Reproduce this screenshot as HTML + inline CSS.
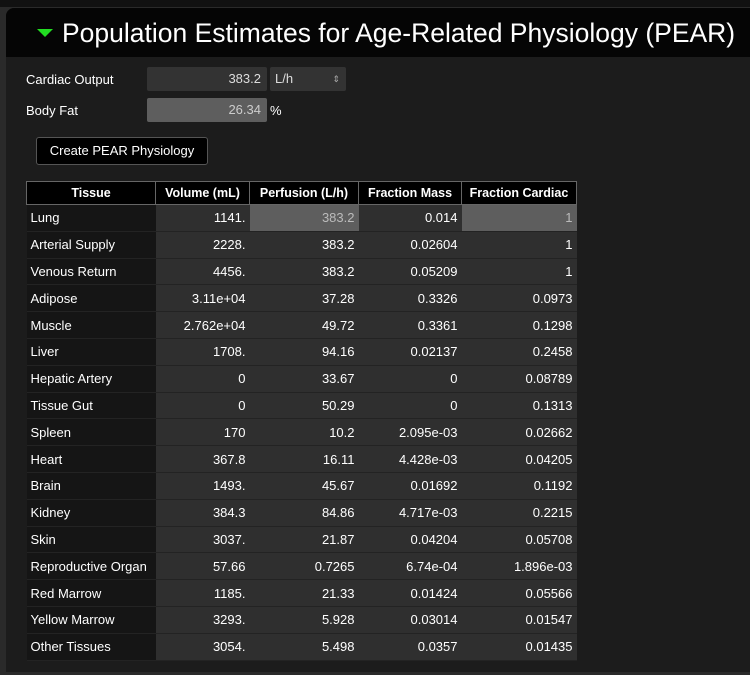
<!DOCTYPE html>
<html><head><style>
body{margin:0;width:750px;height:675px;background:#2a2a2a;overflow:hidden;font-family:"Liberation Sans",sans-serif;}
.panel{position:absolute;left:6px;top:8px;width:744px;height:664px;background:#1c1c1c;border-radius:8px 0 0 0;}
.hdr{position:absolute;left:0;top:0;width:744px;height:49px;background:#050505;border-radius:8px 0 0 0;}
.hdr .t{position:absolute;left:56px;top:10px;font-size:26.5px;color:#fff;white-space:nowrap;}
.tri{position:absolute;left:31px;top:21px;width:0;height:0;border-left:8px solid transparent;border-right:8px solid transparent;border-top:8px solid #22dd22;}
.lbl{position:absolute;color:#fff;font-size:13px;}
.box{position:absolute;color:#ddd;font-size:13px;text-align:right;box-sizing:border-box;padding-right:6px;line-height:24px;border-radius:2px;}
table{position:absolute;left:20px;top:173px;border-collapse:collapse;font-size:13px;color:#fff;table-layout:fixed;width:550px;}
th{background:#000;border:1px solid #666;height:22px;font-size:12.5px;padding:0 2px;font-weight:bold;white-space:nowrap;overflow:hidden;}
td{height:25.8px;padding:0 4px;border-bottom:1px solid #232323;text-align:right;background:#2f2f2f;white-space:nowrap;overflow:hidden;}
td:first-child{text-align:left;background:#151515;}
</style></head><body>
<div style="position:absolute;left:0;top:0;width:750px;height:7px;background:#111"></div>
<div class="panel">
<div class="hdr"><div class="tri"></div><div class="t">Population Estimates for Age-Related Physiology (PEAR)</div></div>
<div class="lbl" style="left:20px;top:64px">Cardiac Output</div>
<div class="box" style="left:141px;top:59px;width:120px;height:24px;background:#333">383.2</div>
<div class="box" style="left:264px;top:59px;width:76px;height:24px;background:#333;text-align:left;padding-left:5px">L/h<span style="position:absolute;right:6px;top:0;font-size:9px;color:#aaa">&#8661;</span></div>
<div class="lbl" style="left:20px;top:95px">Body Fat</div>
<div class="box" style="left:141px;top:90px;width:120px;height:24px;background:#5e5e5e;color:#ccc">26.34</div>
<div class="lbl" style="left:264px;top:95px">%</div>
<div style="position:absolute;left:30px;top:129px;width:172px;height:28px;background:#000;border:1px solid #555;border-radius:3px;box-sizing:border-box;color:#fff;font-size:13px;text-align:center;line-height:26px">Create PEAR Physiology</div>
<table>
<colgroup><col style="width:129px"><col style="width:94px"><col style="width:109px"><col style="width:103px"><col style="width:115px"></colgroup>
<tr><th>Tissue</th><th>Volume (mL)</th><th>Perfusion (L/h)</th><th>Fraction Mass</th><th>Fraction Cardiac</th></tr>
<tr><td>Lung</td><td>1141.</td><td style="background:#5e5e5e;color:#bbb">383.2</td><td>0.014</td><td style="background:#5e5e5e;color:#bbb">1</td></tr>
<tr><td>Arterial Supply</td><td>2228.</td><td>383.2</td><td>0.02604</td><td>1</td></tr>
<tr><td>Venous Return</td><td>4456.</td><td>383.2</td><td>0.05209</td><td>1</td></tr>
<tr><td>Adipose</td><td>3.11e+04</td><td>37.28</td><td>0.3326</td><td>0.0973</td></tr>
<tr><td>Muscle</td><td>2.762e+04</td><td>49.72</td><td>0.3361</td><td>0.1298</td></tr>
<tr><td>Liver</td><td>1708.</td><td>94.16</td><td>0.02137</td><td>0.2458</td></tr>
<tr><td>Hepatic Artery</td><td>0</td><td>33.67</td><td>0</td><td>0.08789</td></tr>
<tr><td>Tissue Gut</td><td>0</td><td>50.29</td><td>0</td><td>0.1313</td></tr>
<tr><td>Spleen</td><td>170</td><td>10.2</td><td>2.095e-03</td><td>0.02662</td></tr>
<tr><td>Heart</td><td>367.8</td><td>16.11</td><td>4.428e-03</td><td>0.04205</td></tr>
<tr><td>Brain</td><td>1493.</td><td>45.67</td><td>0.01692</td><td>0.1192</td></tr>
<tr><td>Kidney</td><td>384.3</td><td>84.86</td><td>4.717e-03</td><td>0.2215</td></tr>
<tr><td>Skin</td><td>3037.</td><td>21.87</td><td>0.04204</td><td>0.05708</td></tr>
<tr><td>Reproductive Organ</td><td>57.66</td><td>0.7265</td><td>6.74e-04</td><td>1.896e-03</td></tr>
<tr><td>Red Marrow</td><td>1185.</td><td>21.33</td><td>0.01424</td><td>0.05566</td></tr>
<tr><td>Yellow Marrow</td><td>3293.</td><td>5.928</td><td>0.03014</td><td>0.01547</td></tr>
<tr><td>Other Tissues</td><td>3054.</td><td>5.498</td><td>0.0357</td><td>0.01435</td></tr>
</table>
</div>
</body></html>
